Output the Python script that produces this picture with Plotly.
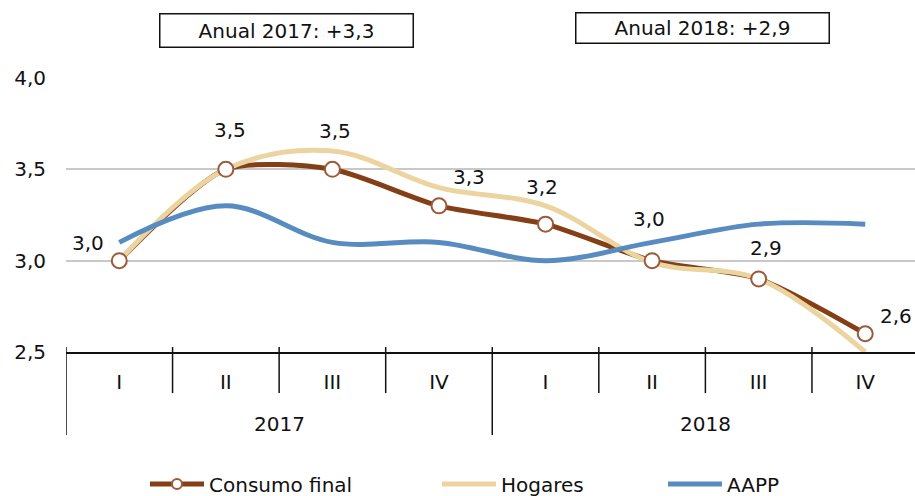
import plotly.graph_objects as go

# ---- data ----
quarters = ["I", "II", "III", "IV", "I", "II", "III", "IV"]
years = ["2017", "2018"]
consumo_final = [3.0, 3.5, 3.5, 3.3, 3.2, 3.0, 2.9, 2.6]
hogares = [3.0, 3.5, 3.6, 3.4, 3.3, 2.99, 2.9, 2.5]
aapp = [3.1, 3.3, 3.1, 3.1, 3.0, 3.1, 3.2, 3.2]
anual_labels = ["Anual 2017: +3,3", "Anual 2018: +2,9"]

xpos = list(range(len(quarters)))

FONT = "DejaVu Sans, Verdana, sans-serif"
BROWN = "#843F17"
TAN = "#EBD49F"
BLUE = "#588BBF"
MARKER_EDGE = "#9B5B3A"

fig = go.Figure()

fig.add_trace(go.Scatter(
    x=xpos, y=consumo_final, name="Consumo final", mode="lines+markers",
    line=dict(color=BROWN, width=5, shape="spline", smoothing=0.7),
    marker=dict(size=10, color="white", line=dict(color=MARKER_EDGE, width=2)),
    legend="legend",
))
fig.add_trace(go.Scatter(
    x=xpos, y=hogares, name="Hogares", mode="lines",
    line=dict(color=TAN, width=5, shape="spline", smoothing=1),
    legend="legend2",
))
fig.add_trace(go.Scatter(
    x=xpos, y=aapp, name="AAPP", mode="lines",
    line=dict(color=BLUE, width=5, shape="spline", smoothing=1),
    legend="legend3",
))
# markers on top
fig.add_trace(go.Scatter(
    x=xpos, y=consumo_final, mode="markers", showlegend=False, hoverinfo="skip",
    marker=dict(size=15, color="white", line=dict(color=MARKER_EDGE, width=2)),
    cliponaxis=False,
))

# data labels
dx = [-31, 4, 3, 30, -4, -3, 7, 31]
dy = [18, 39, 38, 29, 37, 42, 31, 18]
for i, v in enumerate(consumo_final):
    fig.add_annotation(x=xpos[i], y=v, xref="x", yref="y",
                       text=f"{v:.1f}".replace(".", ","), showarrow=False,
                       xshift=dx[i], yshift=dy[i],
                       font=dict(family=FONT, size=20, color="#111"))

# year labels
for j, yr in enumerate(years):
    fig.add_annotation(x=1.5 + 4 * j, y=-0.263, xref="x", yref="paper",
                       text=yr, showarrow=False, yanchor="middle",
                       font=dict(family=FONT, size=20, color="#111"))

# annual boxes
box_x = [0.2603, 0.7497]
box_y = [1.175, 1.181]
box_h = [30, 27]
for j, t in enumerate(anual_labels):
    fig.add_annotation(x=box_x[j], y=box_y[j], xref="paper", yref="paper",
                       text=t, showarrow=False, xanchor="center", yanchor="middle",
                       width=250, height=box_h[j], borderpad=1,
                       bordercolor="#111", borderwidth=1.5, bgcolor="white",
                       font=dict(family=FONT, size=20, color="#111"))

# category separators
for b in [0.5, 1.5, 2.5, 4.5, 5.5, 6.5]:
    fig.add_shape(type="line", xref="x", yref="paper", x0=b, x1=b, y0=0.018, y1=-0.150,
                  line=dict(color="#111", width=1.5))
for b in [-0.5, 3.5, 7.5]:
    fig.add_shape(type="line", xref="x", yref="paper", x0=b, x1=b, y0=0.018, y1=-0.303,
                  line=dict(color="#111", width=1.5))

legend_common = dict(orientation="h", xref="container", yref="container",
                     yanchor="middle", y=(496 - 484) / 496, xanchor="left",
                     font=dict(family=FONT, size=20, color="#111"),
                     bgcolor="rgba(0,0,0,0)", itemwidth=54)

fig.update_layout(
    width=915, height=496,
    margin=dict(l=66, r=0, t=78, b=144, autoexpand=False),
    paper_bgcolor="white", plot_bgcolor="white",
    separators=",.",
    xaxis=dict(range=[-0.5, 7.467], tickmode="array", tickvals=xpos, ticktext=quarters,
               showgrid=False, zeroline=False, showline=True, linecolor="#111", linewidth=2,
               ticks="", ticklabelstandoff=11, automargin=False,
               tickfont=dict(family=FONT, size=20, color="#111")),
    yaxis=dict(range=[2.5, 4.0], tickvals=[2.5, 3.0, 3.5, 4.0], tickformat=".1f",
               showgrid=True, gridcolor="#C8C8C8", gridwidth=1.5, zeroline=False,
               showline=False, ticks="", ticklabelstandoff=19, automargin=False,
               tickfont=dict(family=FONT, size=20, color="#111")),
    legend=dict(x=145 / 915, **legend_common),
    legend2=dict(x=437 / 915, **legend_common),
    legend3=dict(x=663 / 915, **legend_common),
    showlegend=True,
)

fig.write_html("out.html", config={"displayModeBar": False},
               post_script="document.body.style.margin='0px';")
